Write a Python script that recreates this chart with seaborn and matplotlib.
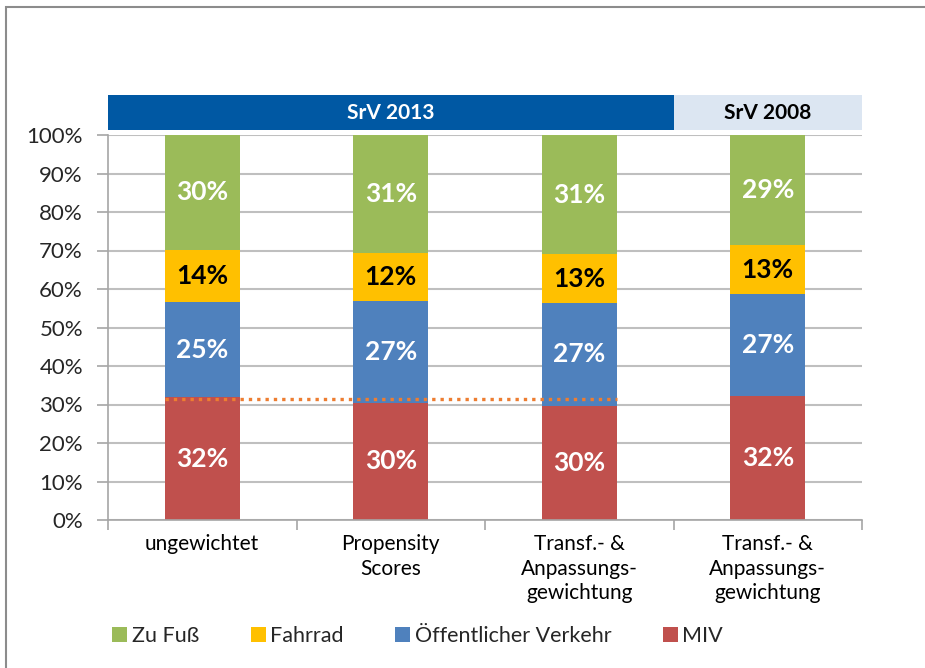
import numpy as np
import pandas as pd
import matplotlib
matplotlib.use("Agg")
import matplotlib.pyplot as plt
import matplotlib.transforms as mtransforms
from matplotlib.patches import Rectangle, Patch
from matplotlib.ticker import FixedLocator
import seaborn as sns

# --- data ---
categories = ["ungewichtet", "Propensity\nScores",
              "Transf.- &\nAnpassungs-\ngewichtung",
              "Transf.- &\nAnpassungs-\ngewichtung"]
miv = [31.9, 30.4, 29.7, 32.1]        # MIV
oev = [24.7, 26.6, 26.7, 26.6]        # Öffentlicher Verkehr
rad = [13.6, 12.4, 12.6, 12.7]        # Fahrrad
fuss = [29.8, 30.6, 31.0, 28.6]       # Zu Fuß
groups = ["SrV 2013", "SrV 2008"]
group_size = [3, 1]
ref_value = 31.4                      # dotted line

series_names = ["MIV", "Öffentlicher Verkehr", "Fahrrad", "Zu Fuß"]
series_vals = [miv, oev, rad, fuss]
colors = {"MIV": "#C0504D", "Öffentlicher Verkehr": "#4F81BD",
          "Fahrrad": "#FFC000", "Zu Fuß": "#9BBB59"}
label_colors = {"MIV": "white", "Öffentlicher Verkehr": "white",
                "Fahrrad": "black", "Zu Fuß": "white"}

sns.set_theme(style="white")
plt.rcParams["font.family"] = ["Lato", "DejaVu Sans"]

keys = [f"c{i}" for i in range(len(categories))]
vals = np.array(series_vals)
bottoms = np.vstack([np.zeros(len(keys)), np.cumsum(vals, axis=0)[:-1]])
tops = np.cumsum(vals, axis=0)

fig = plt.figure(figsize=(9.25, 6.68), dpi=100)
ax = fig.add_axes([108 / 925, 1 - 520 / 668, 754 / 925, 385 / 668])

# stacked bars: draw cumulative totals from the top segment down
for i in reversed(range(len(series_names))):
    df = pd.DataFrame({"key": keys, "cum": tops[i]})
    sns.barplot(data=df, x="key", y="cum", color=colors[series_names[i]],
                saturation=1, width=0.4, errorbar=None, linewidth=0,
                edgecolor="none", ax=ax, zorder=2)

for i, name in enumerate(series_names):
    for j in range(len(keys)):
        v = vals[i, j]
        ax.text(j, bottoms[i, j] + v / 2, f"{round(v)}%", ha="center",
                va="center", fontsize=19, fontweight="bold",
                color=label_colors[name], zorder=4)

ax.plot([-0.2, 2.2], [ref_value, ref_value], color="#ED7D31", lw=2.4,
        ls=(0, (1, 1.5)), zorder=5)

ax.set_xlim(-0.5, 3.5)
ax.set_ylim(0, 100)
ax.set_xlabel("")
ax.set_ylabel("")
ax.set_yticks(np.arange(0, 101, 10))
ax.set_yticklabels([f"{t}%" for t in range(0, 101, 10)], fontsize=16, color="#262626")
ax.set_xticks(range(4))
ax.set_xticklabels(categories, fontsize=15, color="black", linespacing=1.3,
                   va="top")
ax.tick_params(axis="x", which="major", length=0, pad=10)
ax.xaxis.set_minor_locator(FixedLocator(np.arange(-0.5, 3.6, 1)))
ax.tick_params(axis="x", which="minor", length=7, color="#A6A6A6",
               width=1.2, direction="out", bottom=True)
ax.tick_params(axis="y", length=8, color="#A6A6A6", width=1.2,
               direction="out", left=True, pad=10)
ax.yaxis.grid(True, color="#BFBFBF", lw=1.5)
ax.set_axisbelow(True)
for s in ["top", "right"]:
    ax.spines[s].set_visible(False)
for s in ["left", "bottom"]:
    ax.spines[s].set_color("#A6A6A6")
    ax.spines[s].set_linewidth(1.2)

# group header band
trans = mtransforms.blended_transform_factory(ax.transData, ax.transAxes)
start = -0.5
for g, n, fc, tc in zip(groups, group_size, ["#0058A3", "#DCE6F2"],
                        ["white", "black"]):
    ax.add_patch(Rectangle((start, 1.013), n, 0.091, transform=trans,
                           facecolor=fc, edgecolor="none", clip_on=False))
    ax.text(start + n / 2, 1.058, g, transform=trans, ha="center",
            va="center", fontsize=15, fontweight="bold", color=tc)
    start += n

# legend
handles = [Patch(facecolor=colors[n], edgecolor="none") for n in
           ["Zu Fuß", "Fahrrad", "Öffentlicher Verkehr", "MIV"]]
fig.legend(handles, ["Zu Fuß", "Fahrrad", "Öffentlicher Verkehr", "MIV"],
           loc="center left", bbox_to_anchor=(93 / 925, 1 - 636 / 668),
           ncol=4, frameon=False, fontsize=15.5, handlelength=0.7,
           handleheight=0.7, handletextpad=0.2, columnspacing=2.4)

# outer frame
fig.add_artist(Rectangle((6 / 925, -0.1), 1.2, 1 - 7 / 668 + 0.1,
                         transform=fig.transFigure, fill=False,
                         edgecolor="#8C8C8C", lw=1.5))

fig.savefig("out.png", dpi=100, facecolor="white")
